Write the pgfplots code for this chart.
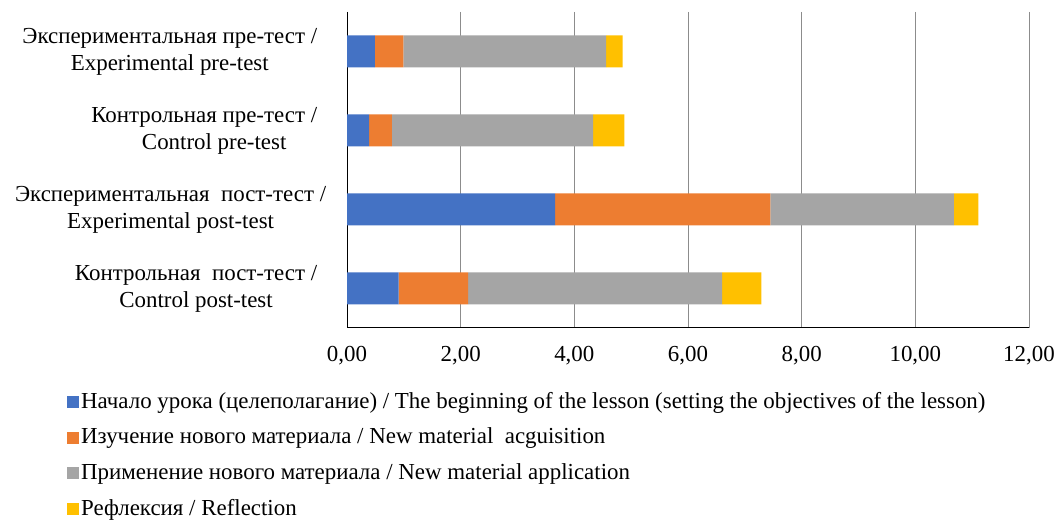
\documentclass[border=0pt]{standalone}
\usepackage{pgfplots}
\pgfplotsset{compat=1.18}
\usepackage{fontspec}
\setmainfont{Liberation Serif}
\definecolor{cBlue}{HTML}{4472C4}
\definecolor{cOrange}{HTML}{ED7D31}
\definecolor{cGray}{HTML}{A5A5A5}
\definecolor{cYellow}{HTML}{FFC000}
\begin{document}
\fontsize{23}{27}\selectfont
\begin{tikzpicture}[x=1bp,y=1bp]
\path[use as bounding box] (0,0) rectangle (1056,520);
\begin{axis}[
  at={(347bp,192bp)}, anchor=south west,
  scale only axis, width=682bp, height=316bp,
  xbar stacked, bar width=32bp,
  xmin=0, xmax=12, xtick={0,2,...,12},
  ymin=-0.5, ymax=3.5, ytick={0,1,2,3}, y dir=reverse,
  yticklabels={
    {Экспериментальная пре-тест /\\Experimental pre-test},
    {Контрольная пре-тест /\\\hspace*{20bp}Control pre-test},
    {Экспериментальная\ \ пост-тест /\hspace*{-9bp}\\Experimental post-test\hspace*{-9bp}},
    {Контрольная\ \ пост-тест /\\Control post-test}},
  yticklabel style={align=center, font=\fontsize{23}{27}\selectfont, xshift=-22bp},
  xticklabel style={font=\fontsize{23}{27}\selectfont, yshift=-10bp,
    /pgf/number format/.cd, fixed, fixed zerofill, precision=2, use comma, assume math mode=true},
  axis x line*=bottom, axis y line*=left,
  axis line style={-, black, line width=1pt},
  xmajorgrids, grid style={color=black!45, line width=1pt},
  tick style={draw=none},
  legend style={at={(-0.415,-0.19)}, anchor=north west, draw=none, fill=none,
    font=\fontsize{23}{27}\selectfont, row sep=12.3bp, legend cell align=left},
  legend image code/.code={\fill[#1] (0bp,-6bp) rectangle (12bp,6bp);},
]
\addplot[fill=cBlue, draw=none] coordinates {(0.49,0) (0.39,1) (3.66,2) (0.91,3)};
\addplot[fill=cOrange, draw=none] coordinates {(0.50,0) (0.40,1) (3.79,2) (1.22,3)};
\addplot[fill=cGray, draw=none] coordinates {(3.57,0) (3.54,1) (3.23,2) (4.47,3)};
\addplot[fill=cYellow, draw=none] coordinates {(0.29,0) (0.55,1) (0.43,2) (0.69,3)};
\legend{Начало урока (целеполагание) / The beginning of the lesson (setting the objectives of the lesson),
  Изучение нового материала / New material\ \ acguisition,
  Применение нового материала / New material application,
  Рефлексия / Reflection}
\end{axis}
\end{tikzpicture}
\end{document}
